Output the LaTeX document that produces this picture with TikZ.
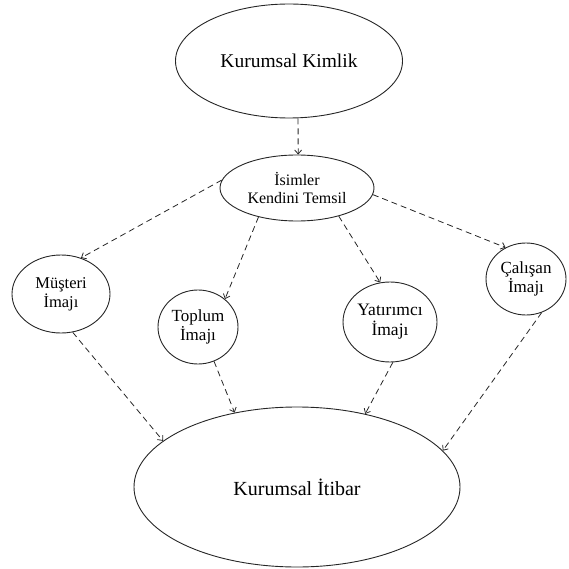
\documentclass[tikz,border=0pt]{standalone}
\usepackage{fontspec}
\setmainfont{Liberation Serif}
\usetikzlibrary{shapes.geometric,arrows.meta}
\begin{document}
\begin{tikzpicture}[x=1pt,y=-1pt,
  oval/.style={draw=black!85,line width=0.9pt,ellipse,inner sep=0pt,align=center},
  link/.style={draw=black!85,line width=0.8pt,dash pattern=on 6pt off 4pt,-{Straight Barb[length=4pt,width=7pt]}}]
\useasboundingbox (0,0) rectangle (569,569);
\node[oval,minimum width=227pt,minimum height=114pt,font=\fontsize{19.5}{22}\selectfont] (kimlik) at (289,61) {Kurumsal Kimlik};
\node[oval,minimum width=154pt,minimum height=66pt,font=\fontsize{16}{18}\selectfont] (isim) at (297,188) {İsimler\\Kendini Temsil};
\node[oval,minimum width=98pt,minimum height=78pt,font=\fontsize{16.5}{19}\selectfont] (mus) at (61,294) {Müşteri\\İmajı};
\node[oval,minimum width=80pt,minimum height=74pt,font=\fontsize{17}{19}\selectfont] (top) at (198,327) {Toplum\\İmajı};
\node[oval,minimum width=94pt,minimum height=80pt,font=\fontsize{17.5}{20}\selectfont] (yat) at (390,322) {Yatırımcı\\İmajı};
\node[oval,minimum width=80pt,minimum height=72pt,font=\fontsize{17}{19}\selectfont] (cal) at (526,279) {Çalışan\\İmajı};
\node[oval,minimum width=326pt,minimum height=160pt,font=\fontsize{20}{23}\selectfont] (itibar) at (297,487) {Kurumsal İtibar};
\draw[link] (kimlik.279) -- (isim.88);
\draw[link] (isim.174) -- (mus.61);
\draw[link] (isim.217) -- (top.46);
\draw[link] (isim.326) -- (yat.104);
\draw[link] (isim.355) -- (cal.123);
\draw[link] (mus.287) -- (itibar.161);
\draw[link] (top.295) -- (itibar.130);
\draw[link] (yat.274) -- (itibar.47);
\draw[link] (cal.295) -- (itibar.14);
\end{tikzpicture}
\end{document}
